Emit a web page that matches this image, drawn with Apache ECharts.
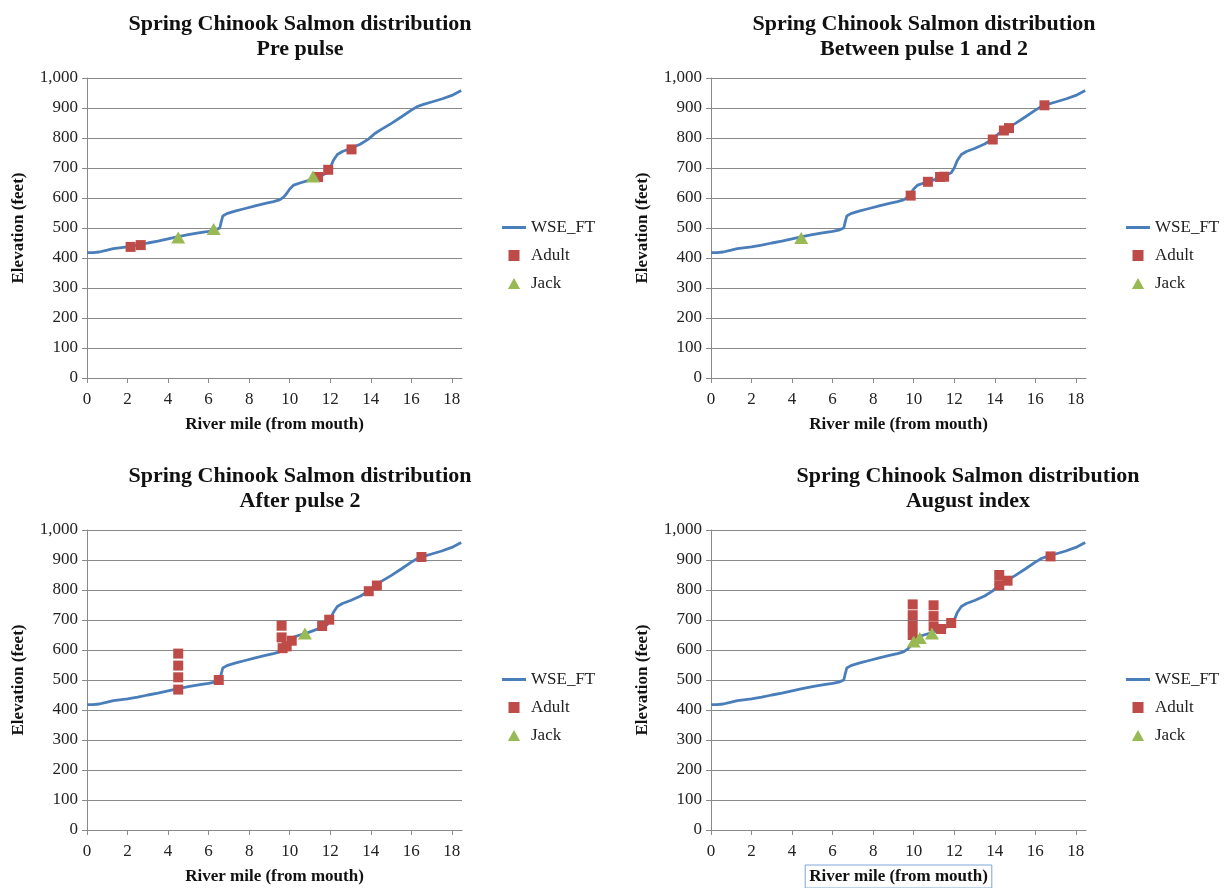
<!DOCTYPE html>
<html>
<head>
<meta charset="utf-8">
<script src="https://cdn.jsdelivr.net/npm/echarts@6/dist/echarts.min.js"></script>
<style>
html,body{margin:0;padding:0;background:#fff;}
#chart{width:1231px;height:888px;}
</style>
</head>
<body>
<div id="chart"></div>
<script>
// ---- Data ----
const panelTitles = [
  'Spring Chinook Salmon distribution\nPre pulse',
  'Spring Chinook Salmon distribution\nBetween pulse 1 and 2',
  'Spring Chinook Salmon distribution\nAfter pulse 2',
  'Spring Chinook Salmon distribution\nAugust index'
];
const seriesNames = ['WSE_FT', 'Adult', 'Jack'];
const xTicks = [0, 2, 4, 6, 8, 10, 12, 14, 16, 18];
const yTicks = [0, 100, 200, 300, 400, 500, 600, 700, 800, 900, 1000];

// Water surface elevation profile (river mile, feet)
const wseMiles = [0,0.3,0.6,1.0,1.3,1.6,2.0,2.5,3.0,3.5,4.0,4.5,5.0,5.5,6.0,6.3,6.55,6.62,6.7,6.9,7.3,7.8,8.3,8.8,9.2,9.5,9.7,9.85,10.0,10.2,10.5,10.9,11.3,11.6,11.85,12.0,12.15,12.35,12.6,13.0,13.5,13.9,14.2,14.5,15.0,15.5,16.0,16.3,16.6,17.0,17.5,18.0,18.46];
const wseElevs = [418,418,420,426,431,434,437,443,450,456,464,471,478,484,489,493,500,520,540,548,556,565,574,582,588,594,603,615,630,643,650,658,668,676,684,700,725,745,755,765,780,797,815,828,848,870,893,905,912,920,930,942,958];

// Fish observations [river mile, elevation]
const prePulseAdult = [[2.15,437],[2.65,443],[11.4,670],[11.9,694],[13.05,762]];
const prePulseJack = [[4.5,468],[6.25,497],[11.15,672]];
const betweenAdult = [[9.85,608],[10.7,654],[11.3,670],[11.5,671],[13.9,795],[14.45,825],[14.7,833],[16.45,909]];
const betweenJack = [[4.45,467]];
const afterAdult = [[4.5,468],[4.5,509],[4.5,548],[4.5,588],[6.5,500],[9.6,681],[9.6,642],[9.65,606],[9.85,612],[10.1,631],[11.6,680],[11.95,701],[13.9,796],[14.3,815],[16.5,910]];
const afterJack = [[10.75,655]];
const augustAdult = [[9.95,752],[9.95,716],[9.95,681],[9.95,650],[10.98,749],[10.98,713],[10.98,679],[11.35,670],[11.85,690],[14.22,850],[14.22,816],[14.63,831],[16.75,912]];
const augustJack = [[10.0,628],[10.3,640],[10.9,655]];

const adultSets = [prePulseAdult, betweenAdult, afterAdult, augustAdult];
const jackSets = [prePulseJack, betweenJack, afterJack, augustJack];

// ---- Layout / style ----
const FONT = '"Liberation Serif", "Times New Roman", serif';
const gridPos = [
  {left: 87, top: 78}, {left: 711, top: 78},
  {left: 87, top: 530}, {left: 711, top: 530}
];
const titleCenters = [295, 919, 295, 963];
const titleTops = [7, 7, 459, 459];
const legendPos = [
  {left: 497, top: 214}, {left: 1121, top: 214},
  {left: 497, top: 666}, {left: 1121, top: 666}
];
const LINE_COLOR = '#4A7EBB';
const ADULT_COLOR = '#BE4B48';
const JACK_COLOR = '#98B954';
const AXIS_GRAY = '#8A8A8A';

const wseData = wseMiles.map((m, i) => [m, wseElevs[i]]);

const option = {
  backgroundColor: '#ffffff',
  animation: false,
  title: [], grid: [], xAxis: [], yAxis: [], legend: [], series: []
};

for (let p = 0; p < 4; p++) {
  option.title.push({
    text: panelTitles[p],
    left: titleCenters[p],
    top: titleTops[p],
    textAlign: 'center',
    textStyle: {fontFamily: FONT, fontSize: 22, fontWeight: 'bold', color: '#111', lineHeight: 25}
  });
  option.grid.push({
    left: gridPos[p].left, top: gridPos[p].top, width: 375, height: 300,
    outerBoundsMode: 'none', containLabel: false
  });
  option.xAxis.push({
    type: 'value', gridIndex: p, min: 0, max: 18.5, interval: 2,
    name: 'River mile (from mouth)', nameLocation: 'middle', nameGap: p === 3 ? 35 : 38,
    nameTextStyle: Object.assign(
      {fontFamily: FONT, fontSize: 17, fontWeight: 'bold', color: '#111'},
      p === 3 ? {borderColor: '#7EA6D8', borderWidth: 1, padding: [3, 4, 3, 4]} : {}
    ),
    axisLine: {show: true, lineStyle: {color: AXIS_GRAY, width: 1}},
    axisTick: {show: true, inside: false, length: 5, lineStyle: {color: AXIS_GRAY}},
    splitLine: {show: false},
    axisLabel: {
      fontFamily: FONT, fontSize: 17, color: '#222', margin: 13,
      showMaxLabel: false,
      formatter: v => (xTicks.indexOf(v) >= 0 ? String(v) : '')
    }
  });
  option.yAxis.push({
    type: 'value', gridIndex: p, min: 0, max: 1000, interval: 100,
    name: 'Elevation (feet)', nameLocation: 'middle', nameGap: 60, nameRotate: 90,
    nameTextStyle: {fontFamily: FONT, fontSize: 17, fontWeight: 'bold', color: '#111'},
    axisLine: {show: true, lineStyle: {color: AXIS_GRAY, width: 1}},
    axisTick: {show: true, inside: false, length: 5, lineStyle: {color: AXIS_GRAY}},
    splitLine: {show: true, lineStyle: {color: AXIS_GRAY, width: 1}},
    axisLabel: {
      fontFamily: FONT, fontSize: 17, color: '#222', margin: 9,
      formatter: v => (yTicks.indexOf(v) >= 0 ? v.toLocaleString('en-US') : '')
    }
  });
  option.legend.push({
    left: legendPos[p].left, top: legendPos[p].top, orient: 'vertical',
    itemWidth: 24, itemHeight: 11, itemGap: 11, symbolKeepAspect: true,
    textStyle: {fontFamily: FONT, fontSize: 17, color: '#222', lineHeight: 17},
    data: [
      {name: 'WSE_FT', icon: 'path://M0,0L24,0L24,3L0,3Z'},
      {name: 'Adult', icon: 'path://M0,0L10,0L10,10L0,10Z'},
      {name: 'Jack', icon: 'path://M5,0L10,9L0,9Z'}
    ]
  });
  option.series.push({
    name: seriesNames[0], type: 'line', xAxisIndex: p, yAxisIndex: p,
    data: wseData, symbol: 'none', smooth: false,
    lineStyle: {color: LINE_COLOR, width: 2.8}, itemStyle: {color: LINE_COLOR}, z: 2
  });
  option.series.push({
    name: seriesNames[1], type: 'scatter', xAxisIndex: p, yAxisIndex: p,
    data: adultSets[p], symbol: 'rect', symbolSize: 10,
    itemStyle: {color: ADULT_COLOR, opacity: 1}, z: 3
  });
  option.series.push({
    name: seriesNames[2], type: 'scatter', xAxisIndex: p, yAxisIndex: p,
    data: jackSets[p], symbol: 'triangle', symbolSize: [14, 12],
    itemStyle: {color: JACK_COLOR, opacity: 1}, z: 4
  });
}

const chart = echarts.init(document.getElementById('chart'), null, {renderer: 'canvas'});
chart.setOption(option);
</script>
</body>
</html>
